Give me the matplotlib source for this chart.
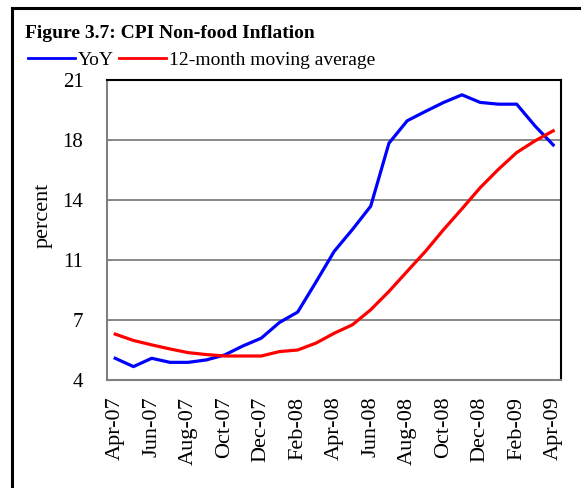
import numpy as np
import matplotlib
matplotlib.use("Agg")
import matplotlib.pyplot as plt
from matplotlib.patches import Rectangle
from matplotlib.lines import Line2D

months = ["Apr-07", "May-07", "Jun-07", "Jul-07", "Aug-07", "Sep-07", "Oct-07", "Nov-07",
          "Dec-07", "Jan-08", "Feb-08", "Mar-08", "Apr-08", "May-08", "Jun-08", "Jul-08",
          "Aug-08", "Sep-08", "Oct-08", "Nov-08", "Dec-08", "Jan-09", "Feb-09", "Mar-09", "Apr-09"]
yoy = [5.23, 4.76, 5.23, 5.0, 5.0, 5.14, 5.42, 5.93, 6.37, 7.26, 7.85, 9.55, 11.29,
       12.53, 13.85, 17.42, 18.69, 19.22, 19.73, 20.16, 19.73, 19.63, 19.63, 18.4, 17.32]
mov_avg = [6.6, 6.24, 5.99, 5.76, 5.55, 5.44, 5.36, 5.36, 5.36, 5.61, 5.7, 6.09, 6.65,
           7.13, 7.98, 9.02, 10.16, 11.29, 12.53, 13.7, 14.9, 15.94, 16.89, 17.55, 18.12]
y_ticks = [4, 7.4, 10.8, 14.2, 17.6, 21]
y_ticklabels = ["4", "7", "11", "14", "18", "21"]

plt.rcParams['font.family'] = ['Liberation Serif', 'DejaVu Serif']

W, H = 581, 488
fig = plt.figure(figsize=(W / 100, H / 100), dpi=100)

# outer frame
fig.patches.append(Rectangle((12 / W, -0.2), 2, 1 - 8 / H + 0.2, transform=fig.transFigure,
                             fill=False, edgecolor='black', lw=2.2, clip_on=False))

left, right, top, bottom = 107, 560.5, 80, 380
ax = fig.add_axes([left / W, 1 - bottom / H, (right - left) / W, (bottom - top) / H])

x = np.arange(len(months))
ax.plot(x, yoy, color='#0000ff', lw=2.3, solid_joinstyle='round', zorder=3)
ax.plot(x, mov_avg, color='#ff0000', lw=2.3, solid_joinstyle='round', zorder=3)

ax.set_xlim(-0.45, 24.4)
ax.set_ylim(4, 21)
ax.set_yticks(y_ticks)
ax.set_yticklabels(y_ticklabels, fontsize=15)
for yv in y_ticks[1:-1]:
    ax.axhline(yv, color='#808080', lw=1.3, zorder=1)

ax.set_xticks(x[::2])
ax.set_xticklabels(months[::2], rotation=90, fontsize=16)
ax.tick_params(axis='x', length=0, pad=12)
ax.tick_params(axis='y', length=3, direction='in', color='#808080', pad=17)

for s in ['left', 'bottom']:
    ax.spines[s].set_color('#808080')
    ax.spines[s].set_linewidth(1.5)
for s in ['top', 'right']:
    ax.spines[s].set_color('black')
    ax.spines[s].set_linewidth(1.5)

fig.text(43 / W, 1 - 215 / H, "percent", rotation=90, fontsize=16, ha='center', va='center')

fig.text(25 / W, 1 - 34 / H, "Figure 3.7: CPI Non-food Inflation", fontsize=14,
         fontweight='bold', ha='left', va='center')

handles = [Line2D([], [], color='#0000ff', lw=2), Line2D([], [], color='#ff0000', lw=2)]
fig.legend(handles, ["YoY", "12-month moving average"], loc='center left',
           bbox_to_anchor=(28 / W, 1 - 60 / H), ncol=2, frameon=False, fontsize=14,
           handlelength=2.4, handletextpad=0.15, columnspacing=0.3, borderpad=0,
           borderaxespad=0)

fig.savefig("out.png", dpi=100)
